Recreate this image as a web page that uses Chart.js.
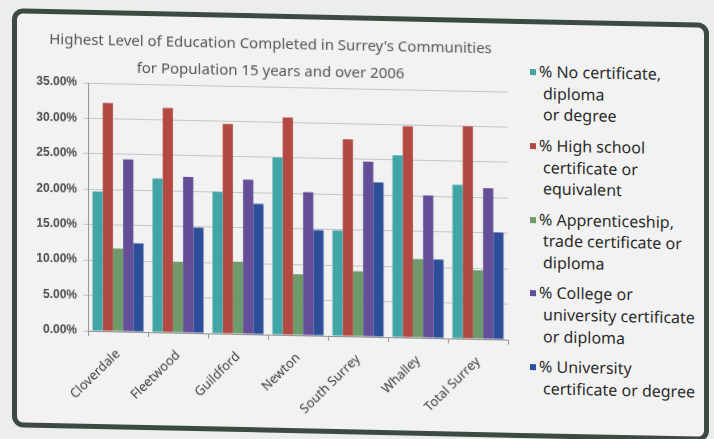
<!DOCTYPE html>
<html lang="en">
<head>
    <meta charset="UTF-8">
    <title>Highest Level of Education Completed in Surrey's Communities</title>
    <script src="https://cdn.jsdelivr.net/npm/chart.js"></script>
    <style>
        body {
            margin: 0;
            background: #eceeed;
            font-family: "Noto Sans", sans-serif;
        }
        #page {
            position: absolute;
            left: 0;
            top: 0;
            width: 714px;
            height: 439px;
            transform: skewY(1.2deg);
            transform-origin: 0 0;
        }
        #frame {
            position: absolute;
            left: 12px;
            top: 8px;
            width: 697px;
            height: 419px;
            box-sizing: border-box;
            border: 5px solid #3c4a42;
            border-radius: 11px;
            background: #f1f2f1;
        }
        #chartBox {
            position: absolute;
            left: 0;
            top: 0;
            width: 512px;
            height: 409px;
        }
        #legend {
            position: absolute;
            left: 513px;
            top: 37px;
            color: #2b2b2b;
            font-size: 16px;
            line-height: 21.7px;
        }
        .item {
            position: relative;
            padding-left: 9px;
            margin-bottom: 8.7px;
        }
        .item .box {
            position: absolute;
            left: 0;
            top: 8px;
            width: 6px;
            height: 6px;
        }
        .item .more {
            padding-left: 4px;
        }
    </style>
</head>
<body>
    <div id="page">
        <div id="frame">
            <div id="chartBox"><canvas id="eduChart" width="512" height="409"></canvas></div>
            <div id="legend"></div>
        </div>
    </div>

    <script>
        // values (percent)
        const communities = ['Cloverdale', 'Fleetwood', 'Guildford', 'Newton', 'South Surrey', 'Whalley', 'Total Surrey'];
        const noCertificate = [19.7, 21.7, 20.0, 25.0, 14.9, 25.7, 21.7];
        const highSchool = [32.2, 31.7, 29.6, 30.7, 27.8, 29.8, 30.0];
        const apprenticeship = [11.7, 10.0, 10.2, 8.6, 9.2, 11.1, 9.7];
        const college = [24.3, 22.0, 21.8, 20.2, 24.7, 20.1, 21.3];
        const university = [12.5, 14.9, 18.4, 14.9, 21.8, 11.1, 15.1];

        const seriesNames = [
            '% No certificate, diploma or degree',
            '% High school certificate or equivalent',
            '% Apprenticeship, trade certificate or diploma',
            '% College or university certificate or diploma',
            '% University certificate or degree'
        ];
        // legend wraps the same way as the original
        const legendLines = [
            ['% No certificate,', 'diploma', 'or degree'],
            ['% High school', 'certificate or', 'equivalent'],
            ['% Apprenticeship,', 'trade certificate or', 'diploma'],
            ['% College or', 'university certificate', 'or diploma'],
            ['% University', 'certificate or degree']
        ];
        const seriesColors = ['#41a4a7', '#b34a42', '#6f9a6b', '#654e98', '#2d4e9a'];
        const yMax = 35, yStep = 5;

        const seriesValues = [noCertificate, highSchool, apprenticeship, college, university];

        const chart = new Chart(document.getElementById('eduChart'), {
            type: 'bar',
            data: {
                labels: communities,
                datasets: seriesValues.map((vals, i) => ({
                    label: seriesNames[i],
                    data: vals,
                    backgroundColor: seriesColors[i],
                    categoryPercentage: 0.85,
                    barPercentage: 1.0
                }))
            },
            options: {
                responsive: false,
                animation: false,
                layout: {
                    padding: {top: 12, left: 16, right: 21, bottom: 13}
                },
                plugins: {
                    legend: {display: false},
                    tooltip: {enabled: false},
                    title: {
                        display: true,
                        text: ["Highest Level of Education Completed in Surrey's Communities",
                               'for Population 15 years and over 2006'],
                        color: '#555',
                        font: {family: 'Noto Sans', size: 15, weight: 'normal', lineHeight: 1.8},
                        padding: {top: 0, bottom: 2}
                    }
                },
                scales: {
                    x: {
                        grid: {drawOnChartArea: false, drawTicks: true, tickLength: 5, color: '#8f9391'},
                        border: {color: '#8f9391'},
                        ticks: {
                            minRotation: 45,
                            maxRotation: 45,
                            padding: 10,
                            color: '#3a3a3a',
                            font: {family: 'Noto Sans', size: 13}
                        },
                        afterFit: (scale) => { scale.height = 80; }
                    },
                    y: {
                        min: 0,
                        max: yMax,
                        grid: {color: '#c3c7c5', tickLength: 5},
                        border: {color: '#8f9391'},
                        ticks: {
                            stepSize: yStep,
                            padding: 6,
                            color: '#4a4a4a',
                            font: {family: 'Liberation Sans', size: 12, weight: 'bold'},
                            callback: (v) => v.toFixed(2) + '%'
                        },
                        afterFit: (scale) => { scale.width = 55; }
                    }
                }
            }
        });

        // html legend with the wrapped labels
        const legend = document.getElementById('legend');
        chart.data.datasets.forEach((ds, i) => {
            const item = document.createElement('div');
            item.className = 'item';
            let html = `<span class="box" style="background:${ds.backgroundColor}"></span>`;
            legendLines[i].forEach((line, j) => {
                html += `<div class="${j ? 'more' : ''}">${line}</div>`;
            });
            item.innerHTML = html;
            legend.appendChild(item);
        });
    </script>
</body>
</html>
